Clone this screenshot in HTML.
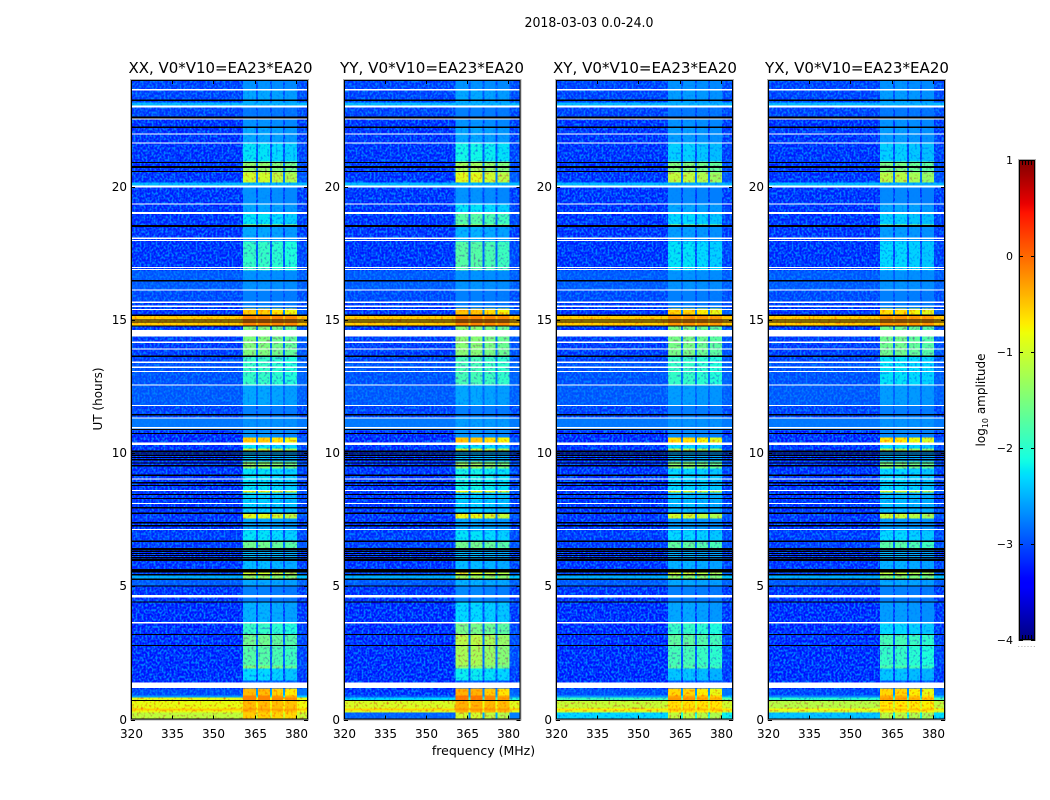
<!DOCTYPE html>
<html>
<head>
<meta charset="utf-8">
<title>2018-03-03 0.0-24.0</title>
<style>
html,body{margin:0;padding:0;background:#fff;width:1050px;height:800px;overflow:hidden}
svg{display:block}
text{font-family:"DejaVu Sans","Liberation Sans",sans-serif;fill:#000}
</style>
</head>
<body>
<svg id="figure" width="1050" height="800" viewBox="0 0 1050 800" xmlns="http://www.w3.org/2000/svg">
<defs>
<filter id="grain" x="0" y="0" width="100%" height="100%" color-interpolation-filters="sRGB">
<feTurbulence type="fractalNoise" baseFrequency="0.5 0.42" numOctaves="1" seed="4"/>
<feColorMatrix type="matrix" values="0 0 0 0 0  0 0 0 0 0.5  0 0 0 0 0  3.6 0 0 0 -1.45"/>
</filter>
<filter id="grain-dark" x="0" y="0" width="100%" height="100%" color-interpolation-filters="sRGB">
<feTurbulence type="fractalNoise" baseFrequency="0.46 0.4" numOctaves="1" seed="11"/>
<feColorMatrix type="matrix" values="0 0 0 0 1  0 0 0 0 0.5  0 0 0 0 1  3.2 0 0 0 -1.62"/>
</filter>
<linearGradient id="jet-gradient" x1="0" y1="1" x2="0" y2="0"></linearGradient>
</defs>
<text x="589" y="27" font-size="13" text-anchor="middle" textLength="129" lengthAdjust="spacingAndGlyphs">2018-03-03 0.0-24.0</text>
<text x="483.5" y="755" font-size="12.5" text-anchor="middle">frequency (MHz)</text>
<text transform="translate(102,399) rotate(-90)" font-size="12" text-anchor="middle">UT (hours)</text>
<g id="panels"></g>
<g id="colorbar"></g>
<text transform="translate(985,400) rotate(-90)" font-size="12" text-anchor="middle">log<tspan font-size="8" dy="3">10</tspan><tspan dy="-3"> amplitude</tspan></text>
</svg>
<script>
// ---- data ----
const freqTicks = [320, 335, 350, 365, 380];
const hourTicks = [0, 5, 10, 15, 20];
const amplitudeTicks = [1, 0, -1, -2, -3, -4];

// frequency channels (MHz edges) and how much of the in-band level each shows
const channelEdges = [320, 360.7, 365.5, 366.2, 370.5, 371.3, 375.3, 376, 380.4, 384.4];
const channelWeight = [0, 1, 0.2, 1, 0.2, 0.95, 0.2, 0.9, 0.1];

// time segments: start hour of each
const segStart = [
0.00,0.26,0.34,0.42,0.71,0.83,0.90,1.16,1.46,1.91,
2.03,2.78,3.19,3.64,4.39,4.99,5.25,5.44,5.52,6.42,
6.72,7.09,7.54,7.73,8.52,8.59,9.42,9.68,10.09,10.17,
10.36,10.58,10.84,11.29,11.78,12.53,13.40,13.62,14.63,14.75,
15.16,15.42,15.68,16.13,16.85,17.94,18.50,18.57,18.99,19.32,
20.00,20.15,20.53,20.94,21.61,22.21,22.59,22.96,23.15,23.64];

// log10 amplitude outside the band
const bgXX = [
-1.10,-0.85,-0.55,-0.85,-0.90,-2.60,-3.10,-3.30,-3.30,-3.30,
-3.30,-3.30,-3.30,-3.30,-3.25,-3.00,-2.50,-3.15,-3.25,-3.20,
-3.20,-3.25,-3.25,-3.25,-3.25,-3.25,-3.25,-3.25,-3.25,-3.25,
-3.30,-3.30,-2.80,-3.15,-3.00,-3.05,-3.15,-3.20,-3.25,-0.55,
-3.25,-3.20,-3.10,-3.00,-3.25,-3.25,-3.25,-3.25,-3.25,-3.25,
-2.45,-3.25,-3.25,-3.25,-3.25,-3.25,-3.15,-2.45,-3.15,-3.15];
const bgYY = [
-2.95,-0.95,-0.60,-0.95,-2.30,-3.00,-3.25,-3.30,-3.30,-3.30,
-3.30,-3.30,-3.30,-3.30,-3.25,-3.00,-2.50,-3.15,-3.25,-3.20,
-3.20,-3.25,-3.25,-3.25,-3.25,-3.25,-3.25,-3.25,-3.25,-3.25,
-3.30,-3.30,-2.80,-3.15,-3.00,-3.05,-3.15,-3.20,-3.25,-0.55,
-3.25,-3.20,-3.10,-3.00,-3.25,-3.25,-3.25,-3.25,-3.25,-3.25,
-2.45,-3.25,-3.25,-3.25,-3.25,-3.25,-3.15,-2.45,-3.15,-3.15];
const bgXY = [
-2.30,-1.00,-0.70,-1.05,-1.90,-2.60,-3.10,-3.30,-3.30,-3.30,
-3.30,-3.30,-3.30,-3.30,-3.25,-3.00,-2.50,-3.15,-3.25,-3.20,
-3.20,-3.25,-3.25,-3.25,-3.25,-3.25,-3.25,-3.25,-3.25,-3.25,
-3.30,-3.30,-2.80,-3.15,-3.00,-3.05,-3.15,-3.20,-3.25,-0.55,
-3.25,-3.20,-3.10,-3.00,-3.25,-3.25,-3.25,-3.25,-3.25,-3.25,
-2.45,-3.25,-3.25,-3.25,-3.25,-3.25,-3.15,-2.45,-3.15,-3.15];
const bgYX = [
-2.40,-1.05,-0.80,-1.15,-2.00,-2.70,-3.15,-3.30,-3.30,-3.30,
-3.30,-3.30,-3.30,-3.30,-3.25,-3.00,-2.50,-3.15,-3.25,-3.20,
-3.20,-3.25,-3.25,-3.25,-3.25,-3.25,-3.25,-3.25,-3.25,-3.25,
-3.30,-3.30,-2.80,-3.15,-3.00,-3.05,-3.15,-3.20,-3.25,-0.55,
-3.25,-3.20,-3.10,-3.00,-3.25,-3.25,-3.25,-3.25,-3.25,-3.25,
-2.45,-3.25,-3.25,-3.25,-3.25,-3.25,-3.15,-2.45,-3.15,-3.15];

// log10 amplitude inside the band
const sigXX = [
-0.55,-0.45,-0.30,-0.45,-0.15,-0.15,-0.45,-3.00,-2.30,-1.50,
-1.75,-1.60,-1.95,-2.50,-2.75,-2.55,-1.35,-1.00,-2.45,-1.60,
-2.25,-2.55,-0.90,-2.35,-0.90,-2.25,-1.40,-2.45,-1.10,-2.25,
-0.55,-2.65,-2.65,-2.75,-2.55,-1.95,-1.95,-1.50,-1.50,-0.15,
-0.55,-2.75,-2.75,-2.65,-1.95,-2.55,-1.10,-2.25,-2.55,-2.65,
-2.45,-1.00,-1.40,-2.25,-2.55,-2.65,-2.80,-2.50,-2.55,-2.65];
const sigYY = [
-1.00,-0.40,-0.25,-0.40,-0.05,-0.05,-0.40,-3.00,-2.20,-1.40,
-1.25,-1.15,-1.55,-2.30,-2.70,-2.50,-1.30,-0.95,-2.45,-1.60,
-2.25,-2.55,-0.85,-2.35,-0.85,-2.15,-1.35,-2.45,-1.05,-2.25,
-0.50,-2.65,-2.60,-2.75,-2.55,-1.85,-1.85,-1.45,-1.45,-0.15,
-0.50,-2.75,-2.75,-2.65,-1.75,-2.50,-1.20,-1.75,-2.25,-2.65,
-2.45,-0.90,-1.30,-2.15,-2.55,-2.65,-2.75,-2.50,-2.55,-2.65];
const sigXY = [
-1.10,-0.70,-0.45,-0.65,-0.25,-0.35,-0.60,-3.00,-2.40,-1.75,
-1.85,-1.70,-1.95,-2.55,-2.75,-2.55,-1.40,-1.05,-2.50,-1.70,
-2.30,-2.60,-1.00,-2.45,-1.00,-2.30,-1.45,-2.50,-1.20,-2.30,
-0.65,-2.70,-2.65,-2.75,-2.60,-1.95,-1.95,-1.55,-1.55,-0.25,
-0.60,-2.75,-2.75,-2.65,-2.25,-2.60,-1.30,-2.30,-2.55,-2.70,
-2.50,-1.10,-1.50,-2.35,-2.60,-2.65,-2.80,-2.50,-2.60,-2.65];
const sigYX = [
-1.15,-0.75,-0.50,-0.70,-0.30,-0.40,-0.60,-3.00,-2.40,-1.80,
-1.95,-1.85,-2.30,-2.60,-2.75,-2.55,-1.45,-1.10,-2.50,-1.75,
-2.30,-2.60,-1.05,-2.45,-1.05,-2.30,-1.50,-2.50,-1.25,-2.30,
-0.70,-2.70,-2.65,-2.75,-2.60,-2.25,-2.25,-1.60,-1.60,-0.25,
-0.65,-2.75,-2.75,-2.65,-2.30,-2.60,-1.35,-2.35,-2.55,-2.70,
-2.50,-1.15,-1.55,-2.35,-2.60,-2.65,-2.80,-2.50,-2.60,-2.65];

// flagged (no data) intervals: centre hour and duration, white
const whiteHours = [23.64,23.01,22.54,21.98,21.64,20.01,19.35,19.00,18.06,17.97,16.97,16.89,16.12,15.66,15.51,15.38,14.50,14.16,13.91,13.41,13.22,13.06,12.56,11.78,11.32,10.95,10.35,9.03,8.59,8.11,7.13,4.62,3.63,1.28];
const whiteSpans = [0.055,0.075,0.04,0.04,0.04,0.075,0.04,0.075,0.04,0.04,0.04,0.04,0.04,0.04,0.055,0.04,0.24,0.055,0.04,0.055,0.04,0.04,0.04,0.04,0.04,0.04,0.11,0.04,0.04,0.04,0.055,0.095,0.04,0.21];
// very low amplitude intervals, black
const blackHours = [23.24,22.60,22.22,20.91,20.74,20.56,18.53,16.47,15.17,15.00,14.91,14.76,13.63,11.44,10.88,10.73,10.07,9.91,9.74,9.53,9.16,8.89,8.78,8.44,8.29,7.95,7.74,7.39,7.28,6.69,6.42,6.30,6.23,6.08,5.97,5.59,5.44,5.26,5.01,4.41,3.19,2.78,0.71,10.00,9.84,9.62,6.37,6.15,6.02];
const blackSpans = [0.055,0.075,0.055,0.04,0.075,0.04,0.075,0.055,0.04,0.04,0.04,0.04,0.055,0.055,0.04,0.04,0.055,0.055,0.055,0.055,0.055,0.055,0.04,0.04,0.04,0.055,0.055,0.055,0.055,0.055,0.04,0.04,0.04,0.055,0.055,0.13,0.055,0.055,0.055,0.055,0.04,0.04,0.04,0.04,0.04,0.04,0.04,0.04,0.04];

// ---- layout ----
const plotTop = 80, plotBottom = 719.5;
const hourMax = 24, freqMin = 320, freqMax = 384.4;
const panels = [
  {key:'xx', title:'XX, V0*V10=EA23*EA20', left:131, right:308, bg:bgXX, sig:sigXX, titleX:220.5},
  {key:'yy', title:'YY, V0*V10=EA23*EA20', left:344, right:520.5, bg:bgYY, sig:sigYY, titleX:432},
  {key:'xy', title:'XY, V0*V10=EA23*EA20', left:556, right:733, bg:bgXY, sig:sigXY, titleX:645},
  {key:'yx', title:'YX, V0*V10=EA23*EA20', left:768, right:945, bg:bgYX, sig:sigYX, titleX:857}
];
const SVGNS = 'http://www.w3.org/2000/svg';

function make(tag, attrs, parent){
  const el = document.createElementNS(SVGNS, tag);
  for (const k in attrs) el.setAttribute(k, attrs[k]);
  parent.appendChild(el);
  return el;
}
function yScale(hour){ return plotBottom - (hour / hourMax) * (plotBottom - plotTop); }
function xScale(p, mhz){ return p.left + (mhz - freqMin) / (freqMax - freqMin) * (p.right - p.left); }
function ramp(t, pts){
  for (let i = 1; i < pts.length; i++){
    if (t <= pts[i][0]){
      const a = pts[i-1], b = pts[i];
      return a[1] + (b[1]-a[1]) * (t-a[0]) / (b[0]-a[0]);
    }
  }
  return pts[pts.length-1][1];
}
function jet(t){
  t = Math.max(0, Math.min(1, t));
  const r = ramp(t, [[0,0],[0.35,0],[0.66,1],[0.89,1],[1,0.5]]);
  const g = ramp(t, [[0,0],[0.125,0],[0.375,1],[0.64,1],[0.91,0],[1,0]]);
  const b = ramp(t, [[0,0.5],[0.11,1],[0.34,1],[0.65,0],[1,0]]);
  return 'rgb(' + Math.round(r*255) + ',' + Math.round(g*255) + ',' + Math.round(b*255) + ')';
}
function colorOf(v){ return jet((v + 4) / 5); }

const panelsRoot = document.getElementById('panels');
panels.forEach(function(p){
  const g = make('g', {}, panelsRoot);
  
  

  const cells = make('g', {'shape-rendering':'crispEdges'}, g);
  
  
  segStart.forEach(function(start, r){
    const end = r + 1 < segStart.length ? segStart[r+1] : hourMax;
    channelWeight.forEach(function(w, c){
      const value = p.bg[r] + w * (p.sig[r] - p.bg[r]);
      const x0 = xScale(p, channelEdges[c]), x1 = xScale(p, channelEdges[c+1]);
      const y0 = yScale(end), y1 = yScale(start);
      const cell = make('rect', {x:x0, y:y0, width:x1-x0, height:y1-y0, fill:colorOf(value)}, cells);
      
      
    });
  });

  const grain = make('rect', {x:p.left, y:plotTop, width:p.right-p.left, height:plotBottom-plotTop, filter:'url(#grain)', style:'mix-blend-mode:lighten'}, g);
  
  
  const grainDark = make('rect', {x:p.left, y:plotTop, width:p.right-p.left, height:plotBottom-plotTop, filter:'url(#grain-dark)', style:'mix-blend-mode:darken'}, g);
  
  

  const flags = make('g', {'shape-rendering':'crispEdges'}, g);
  
  
  blackHours.forEach(function(h, i){
    const line = make('rect', {x:p.left, y:yScale(h + blackSpans[i]/2), width:p.right-p.left, height:Math.max(1, yScale(h - blackSpans[i]/2) - yScale(h + blackSpans[i]/2)), fill:'#000'}, flags);
    
    
  });
  whiteHours.forEach(function(h, i){
    const line = make('rect', {x:p.left, y:yScale(h + whiteSpans[i]/2), width:p.right-p.left, height:Math.max(1, yScale(h - whiteSpans[i]/2) - yScale(h + whiteSpans[i]/2)), fill:'#fff'}, flags);
    
    
  });

  const outer = make('rect', {x:p.left-0.5, y:plotTop-0.5, width:p.right-p.left+1, height:plotBottom-plotTop+1, fill:'none', stroke:'#b0b0b0', 'stroke-width':1}, g);
  
  
  const frame = make('rect', {x:p.left+0.5, y:plotTop+0.5, width:p.right-p.left-1, height:plotBottom-plotTop-1, fill:'none', stroke:'#000', 'stroke-width':1}, g);
  
  

  const title = make('text', {x:p.titleX, y:73, 'font-size':15, 'text-anchor':'middle', textLength:184, lengthAdjust:'spacingAndGlyphs'}, g);
  title.textContent = p.title;
  
  

  freqTicks.forEach(function(f){
    const x = Math.round(xScale(p, f)) + 0.5;
    const t1 = make('line', {x1:x, x2:x, y1:plotBottom, y2:plotBottom-4, stroke:'#000'}, g);
    
    
    const t2 = make('line', {x1:x, x2:x, y1:plotTop, y2:plotTop+4, stroke:'#000'}, g);
    
    
    const lab = make('text', {x:x, y:738, 'font-size':12, 'text-anchor':'middle'}, g);
    lab.textContent = String(f);
    
    
  });
  hourTicks.forEach(function(h){
    const y = Math.round(yScale(h)) + 0.5;
    const t1 = make('line', {x1:p.left, x2:p.left+4, y1:y, y2:y, stroke:'#000'}, g);
    
    
    const t2 = make('line', {x1:p.right, x2:p.right-4, y1:y, y2:y, stroke:'#000'}, g);
    
    
    const lab = make('text', {x:p.left-4, y:y+3.5, 'font-size':12, 'text-anchor':'end'}, g);
    lab.textContent = String(h);
    
    
  });
});

// ---- colorbar ----
const cbLeft = 1019, cbRight = 1035, cbTop = 160, cbBottom = 640;
function cbY(v){ return cbBottom - (v + 4) / 5 * (cbBottom - cbTop); }
const gradient = document.getElementById('jet-gradient');
for (let i = 0; i <= 100; i++){
  make('stop', {offset:(i) + '%', 'stop-color':jet(i/100)}, gradient);
}
const cbRoot = document.getElementById('colorbar');
const cbFill = make('rect', {x:cbLeft, y:cbTop, width:cbRight-cbLeft, height:cbBottom-cbTop, fill:'url(#jet-gradient)'}, cbRoot);


const cbOuter = make('rect', {x:cbLeft-0.5, y:cbTop-0.5, width:cbRight-cbLeft+1, height:cbBottom-cbTop+1, fill:'none', stroke:'#b0b0b0'}, cbRoot);


const cbFrame = make('rect', {x:cbLeft+0.5, y:cbTop+0.5, width:cbRight-cbLeft-1, height:cbBottom-cbTop-1, fill:'none', stroke:'#000'}, cbRoot);


amplitudeTicks.forEach(function(v){
  const y = Math.round(cbY(v)) + 0.5;
  const t1 = make('line', {x1:cbLeft, x2:cbLeft+4, y1:y, y2:y, stroke:'#000'}, cbRoot);
  
  
  const t2 = make('line', {x1:cbRight, x2:cbRight-4, y1:y, y2:y, stroke:'#000'}, cbRoot);
  
  
  const lab = make('text', {x:cbLeft-6, y:y+3.5, 'font-size':11, 'text-anchor':'end'}, cbRoot);
  lab.textContent = String(v).replace('-', '\u2212');
  
  
});
[1022.5, 1025.5, 1028.5, 1031.5].forEach(function(x){
  const a = make('line', {x1:x, x2:x, y1:cbTop, y2:cbTop+5, stroke:'#000'}, cbRoot);
  
  
  const b = make('line', {x1:x, x2:x, y1:cbBottom, y2:cbBottom-5, stroke:'#000'}, cbRoot);
  
  
});
const dots = make('text', {x:1026.5, y:647, 'font-size':8, 'text-anchor':'middle', textLength:18, style:'fill:#999'}, cbRoot);
dots.textContent = '......';


</script>
</body>
</html>
